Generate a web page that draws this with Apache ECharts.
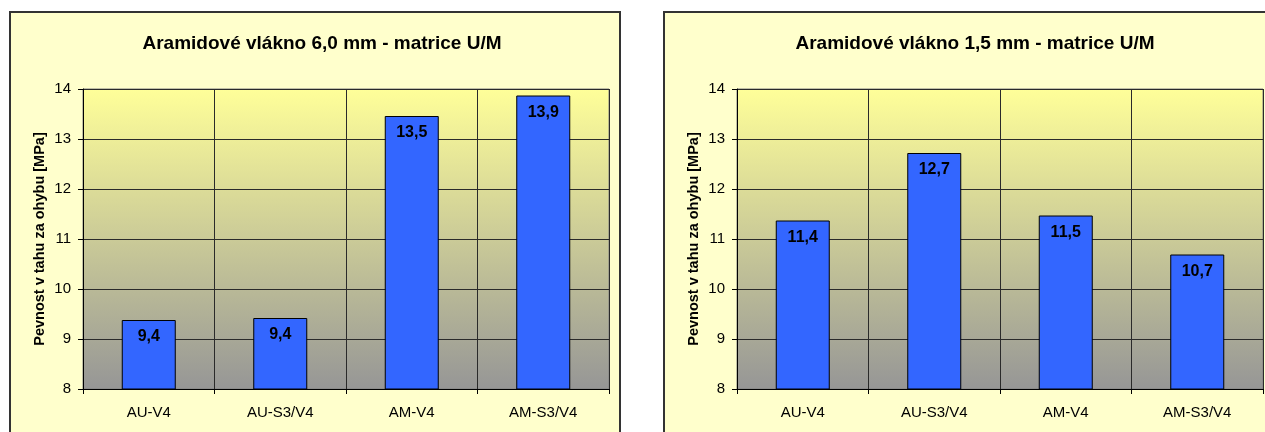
<!DOCTYPE html>
<html>
<head>
<meta charset="utf-8">
<title>Aramidové vlákno – pevnost v tahu za ohybu</title>
<script src="https://cdn.jsdelivr.net/npm/echarts@6/dist/echarts.min.js"></script>
<style>
  html, body { margin: 0; padding: 0; background: #ffffff; overflow: hidden; }
  .frame {
    position: absolute; box-sizing: border-box;
    background: #ffffcc; border: 2px solid #333333;
  }
  #chart { position: absolute; left: 0; top: 0; width: 1265px; height: 432px; }
</style>
</head>
<body>
<div class="frame" style="left:9px; top:11px; width:612px; height:500px;"></div>
<div class="frame" style="left:663px; top:11px; width:612px; height:500px;"></div>
<div id="chart"></div>
<script>
// Sample groups on the category axis
const categories = ['AU-V4', 'AU-S3/V4', 'AM-V4', 'AM-S3/V4'];
// Flexural tensile strength [MPa], fibre length 6,0 mm
const fiber60 = [9.38, 9.42, 13.46, 13.87];
// Flexural tensile strength [MPa], fibre length 1,5 mm
const fiber15 = [11.37, 12.72, 11.47, 10.69];
const titles = [
  'Aramidové vlákno 6,0 mm - matrice U/M',
  'Aramidové vlákno 1,5 mm - matrice U/M'
];
const yAxisName = 'Pevnost v tahu za ohybu [MPa]';
const yTicks = { min: 8, max: 14, interval: 1 };

const FONT = 'Arial, "Liberation Sans", sans-serif';
const chart = echarts.init(document.getElementById('chart'), null, { renderer: 'canvas' });

const plotFill = {
  type: 'linear', x: 0, y: 0, x2: 0, y2: 1,
  colorStops: [{ offset: 0, color: '#ffff99' }, { offset: 1, color: '#969696' }]
};
const gridLine = { show: true, lineStyle: { color: '#2a2a2a', width: 1 } };

const grids = [83, 737].map(left => ({
  left: left, top: 89, width: 526, height: 300,
  show: true, backgroundColor: plotFill, borderColor: '#808080', borderWidth: 1
}));

const xAxes = [0, 1].map(i => ({
  type: 'category', gridIndex: i, data: categories, boundaryGap: true,
  axisLine: { lineStyle: { color: '#000', width: 1 } },
  axisTick: { show: true, alignWithLabel: false, length: 5, lineStyle: { color: '#000' } },
  axisLabel: { color: '#000', fontFamily: FONT, fontSize: 15, margin: 16 },
  splitLine: gridLine
}));

const yAxes = [0, 1].map(i => ({
  type: 'value', gridIndex: i,
  min: yTicks.min, max: yTicks.max, interval: yTicks.interval,
  name: yAxisName, nameLocation: 'middle', nameRotate: 90, nameGap: 36,
  nameTextStyle: { color: '#000', fontFamily: FONT, fontSize: 14.5, fontWeight: 'bold' },
  axisLine: { show: true, lineStyle: { color: '#000', width: 1 } },
  axisTick: { show: true, length: 5, lineStyle: { color: '#000' } },
  axisLabel: { color: '#000', fontFamily: FONT, fontSize: 15, margin: 12 },
  splitLine: gridLine
}));

const fmt = p => p.value.toFixed(1).replace('.', ',');
const barSeries = (data, i) => ({
  type: 'bar', xAxisIndex: i, yAxisIndex: i, data: data, barWidth: 54,
  itemStyle: { color: '#3366ff', borderColor: '#000', borderWidth: 1 },
  label: {
    show: true, position: 'insideTop', distance: 9, formatter: fmt,
    color: '#000', fontFamily: FONT, fontSize: 16, fontWeight: 'bold'
  }
});

chart.setOption({
  animation: false,
  title: titles.map((t, i) => ({
    text: t, left: i === 0 ? 317 : 970, top: 29, textAlign: 'center',
    textStyle: { color: '#000', fontFamily: FONT, fontSize: 19, fontWeight: 'bold' }
  })),
  grid: grids,
  xAxis: xAxes,
  yAxis: yAxes,
  series: [barSeries(fiber60, 0), barSeries(fiber15, 1)]
});
</script>
</body>
</html>
